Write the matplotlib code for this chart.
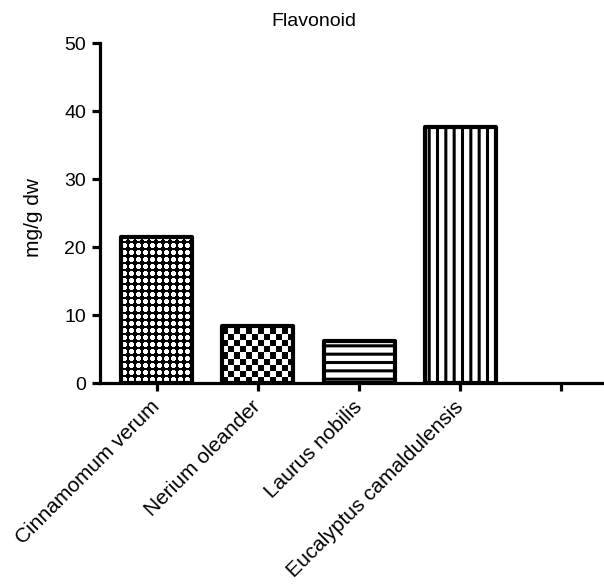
import numpy as np
import matplotlib
matplotlib.use("Agg")
from matplotlib import pyplot as plt

plt.rcParams['font.family'] = ['Liberation Sans', 'DejaVu Sans']
plt.rcParams['hatch.linewidth'] = 2.2

species = ["Cinnamomum verum", "Nerium oleander", "Laurus nobilis", "Eucalyptus camaldulensis", ""]
flavonoid = [21.5, 8.4, 6.2, 37.6]
patterns = ["dots", "checker", "--", "||"]

fig = plt.figure(figsize=(6.04, 5.84), dpi=100)
ax = fig.add_axes([100/604, 1-383/584, 504/604, 340/584])

x = np.arange(len(species))
ax.set_xlim(-0.56, 4.42)
ax.set_ylim(0, 50)

hatches = [p if p not in ("dots", "checker") else None for p in patterns]
bars = ax.bar(x[:len(flavonoid)], flavonoid, width=0.7, color="white",
              edgecolor="black", linewidth=0, hatch=hatches, zorder=2)

# bitmap fills for the two patterns matplotlib has no hatch for
def texture(bar, kind):
    x0, y0 = bar.get_x(), bar.get_y()
    w, h = bar.get_width(), bar.get_height()
    p0 = ax.transData.transform((x0, y0))
    p1 = ax.transData.transform((x0 + w, y0 + h))
    nx, ny = int(round(p1[0] - p0[0])), int(round(p1[1] - p0[1]))
    yy, xx = np.mgrid[0:ny, 0:nx]
    if kind == "checker":
        arr = ((xx // 6 + yy // 6) % 2).astype(float)
    else:
        arr = (((xx % 7) - 3) ** 2 + ((yy % 7) - 3) ** 2 <= 5).astype(float)
    im = ax.imshow(arr, cmap="gray", vmin=0, vmax=1, extent=(x0, x0 + w, y0, y0 + h),
                   origin="lower", interpolation="nearest", aspect="auto", zorder=2.1)
    im.set_clip_path(bar)

for b, p in zip(bars, patterns):
    if p in ("dots", "checker"):
        texture(b, p)

ax.bar(x[:len(flavonoid)], flavonoid, width=0.7, fill=False, edgecolor="black",
       linewidth=3, joinstyle="round", zorder=3)

ax.set_xlim(-0.56, 4.42)
ax.set_ylim(0, 50)

for s in ["top", "right"]:
    ax.spines[s].set_visible(False)
ax.spines["left"].set_linewidth(2.3)
ax.spines["bottom"].set_linewidth(2.3)
ax.spines["bottom"].set_zorder(4)

ax.set_yticks([0, 10, 20, 30, 40, 50])
ax.set_xticks(x)
ax.set_xticklabels(species, rotation=45, ha="right", va="center", rotation_mode="anchor",
                   fontsize=15)
ax.tick_params(axis="both", direction="out", length=6, width=2.3, pad=4)
ax.tick_params(axis="y", labelsize=14)
ax.tick_params(axis="x", pad=9)

ax.set_ylabel("mg/g dw", fontsize=15)
ax.yaxis.set_label_coords(-0.113, 0.488)
fig.text(314/604, 1-22/584, "Flavonoid", fontsize=14, ha="center", va="center")

fig.savefig("out.png", dpi=100)
